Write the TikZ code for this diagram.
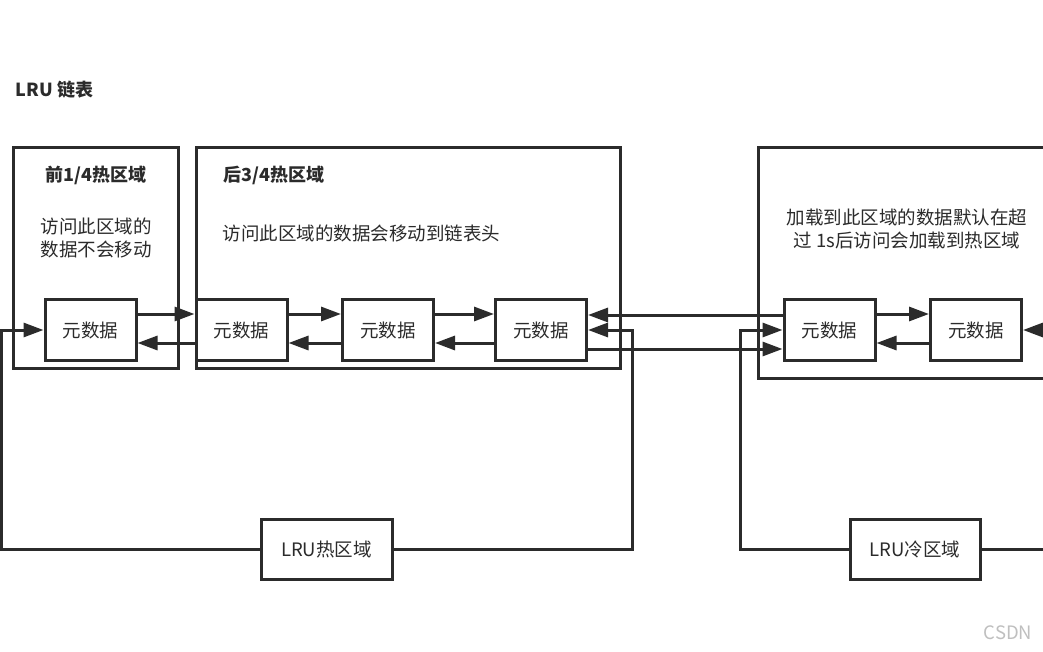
\documentclass[tikz,border=0pt]{standalone}
\usepackage{fontspec}
\usetikzlibrary{arrows.meta}
\newfontfamily\cjk{Noto Sans CJK SC}
\definecolor{ink}{HTML}{2B2B2B}

\begin{document}
\begin{tikzpicture}[x=1pt, y=-1pt, line width=3pt, color=ink,
    every node/.style={font=\cjk\fontsize{18.5}{23.5}\selectfont}]
    \tikzstyle{marrs}=[-{Triangle[length=20pt,width=14pt]}]
    \tikzstyle{meta}=[draw, fill=white, minimum width=91pt, minimum height=61pt, inner sep=0pt]
    \tikzstyle{zone}=[draw, inner sep=0pt]
    \tikzstyle{bold}=[font=\cjk\bfseries\fontsize{18}{22}\selectfont]

    \clip (0,0) rectangle (1043,652);
    \fill[white] (0,0) rectangle (1043,652);

    \begin{scope}

        \node[zone, minimum width=165pt, minimum height=220pt] (z1) at (95.5,258) {};
        \node[zone, minimum width=424pt, minimum height=220pt] (z2) at (408,258) {};
        \node[zone, minimum width=302pt, minimum height=230pt] (z3) at (909,263) {};

        \foreach \n/\x in {m1/90.5, m2/241.5, m3/388, m4/541, m5/829.5, m6/976} {
            \node[meta] (\n) at (\x,330) {元数据};
        }

        \foreach \a/\b in {m1/m2, m2/m3, m3/m4, m5/m6} {
            \draw[marrs] ([yshift=16pt]\a.east) -- ([yshift=16pt]\b.west);
            \draw[marrs] ([yshift=-13pt]\b.west) -- ([yshift=-13pt]\a.east);
        }
        \draw[marrs] ([yshift=15pt]m5.west) -- ([yshift=15pt]m4.east);
        \draw[marrs] ([yshift=-19pt]m4.east) -- ([yshift=-19pt]m5.west);

    \end{scope}

    \begin{scope}

        \node[meta, minimum width=131pt, minimum height=60pt] (hot) at (326.5,549) {LRU热区域};
        \node[meta, minimum width=130pt, minimum height=60pt] (cold) at (915,549) {LRU冷区域};

        \coordinate (hr) at (632,330);
        \coordinate (hl) at (1,330);
        \coordinate (cl) at (740,330);
        \coordinate (cr) at (1060,549);
        \coordinate (in6) at (1060,330);

        \draw[marrs] (hot.east) -| (hr) -- (m4.east);
        \draw[marrs] (hot.west) -| (hl) -- (m1.west);
        \draw[marrs] (cold.west) -| (cl) -- (m5.west);
        \draw (cold.east) -- (cr);
        \draw[marrs] (in6) -- (m6.east);

    \end{scope}

    % labels
    \node[bold, anchor=west] (title) at (11,90) {LRU 链表};
    \node[bold] (t1) at (96,175) {前1/4热区域};
    \node[align=center] (d1) at (96,238) {访问此区域的\\数据不会移动};
    \node[bold, anchor=west] (t2) at (219,175) {后3/4热区域};
    \node[anchor=west] (d2) at (218,233) {访问此区域的数据会移动到链表头};
    \node[align=center] (d3) at (907,229) {加载到此区域的数据默认在超\\过 1s后访问会加载到热区域};
    \node[text=gray!50, anchor=west] (mark) at (979,633) {CSDN};

\end{tikzpicture}
\end{document}
